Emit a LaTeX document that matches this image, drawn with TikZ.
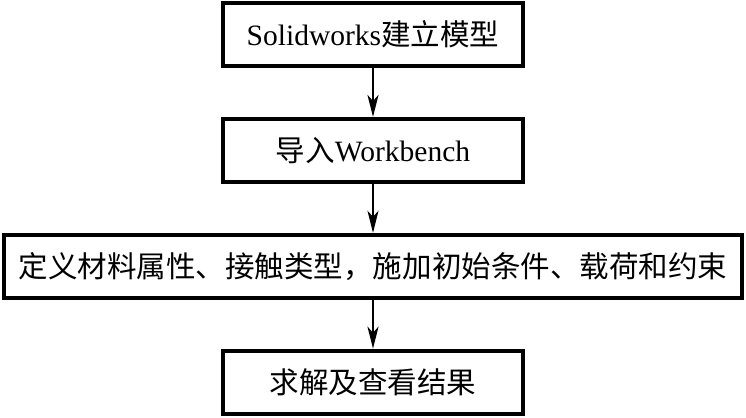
\documentclass[tikz,border=0pt]{standalone}
\usepackage{fontspec}
\setmainfont{Liberation Serif}
\newfontfamily\cjk{Noto Sans CJK SC}
\usetikzlibrary{positioning,arrows.meta}
\tikzset{
  stepbox/.style={draw,line width=2.2pt,minimum width=6.0cm,minimum height=1.26cm,
    inner sep=0pt,font=\fontsize{16.8pt}{20pt}\selectfont},
  widebox/.style={stepbox,minimum width=14.76cm},
  flowarrow/.style={line width=1.2pt,-{Stealth[length=4.4mm,width=2.2mm,inset=1.2mm]}}
}
\begin{document}
\begin{tikzpicture}
\useasboundingbox (0,0) rectangle (14.92,-8.34);

\node[stepbox] (model) at (7.46,-0.69) {Solidworks{\cjk 建立模型}};
\node[stepbox,below=0.98cm of model] (import) {{\cjk 导入}Workbench};
\node[widebox,below=0.98cm of import] (setup) {\cjk 定义材料属性、接触类型，施加初始条件、载荷和约束};
\node[stepbox,below=0.98cm of setup] (solve) {\cjk 求解及查看结果};

\draw[flowarrow] (model) -- (import);
\draw[flowarrow] (import) -- (setup);
\draw[flowarrow] (setup) -- (solve);
\end{tikzpicture}
\end{document}
